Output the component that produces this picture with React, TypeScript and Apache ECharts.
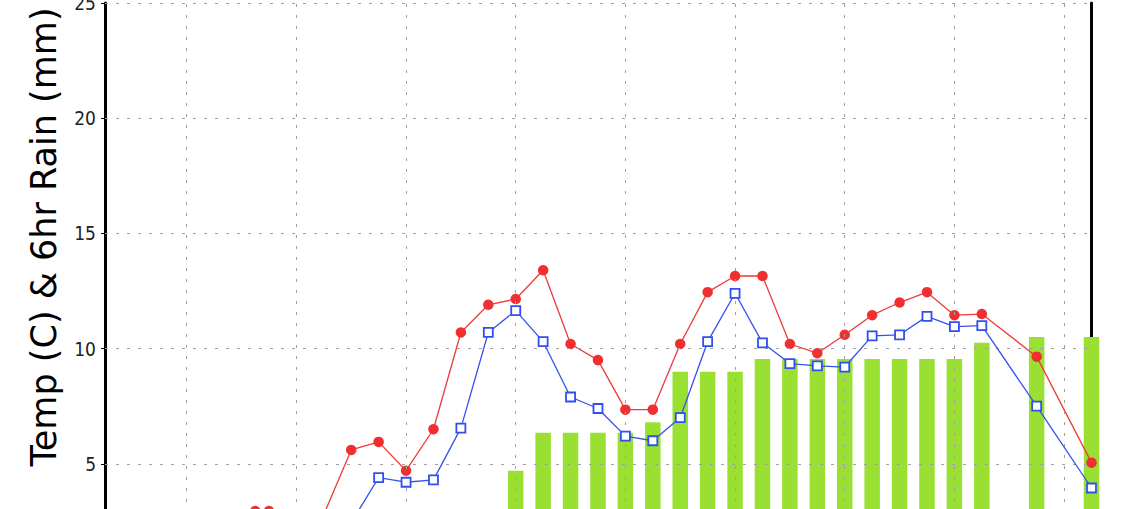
import React, { useEffect, useRef } from "react";
import * as echarts from "echarts";

// forecast hour of each point
const hours = [39, 42, 48, 54, 60, 66, 72, 78, 84, 90, 96, 102, 108, 114, 120, 126, 132, 138, 144, 150, 156, 162, 168, 174, 180, 186, 192, 198, 210, 222];
// temperature (C) - red
const temp = [2.95, 2.95, 2.6, 2.8, 5.6, 5.95, 4.7, 6.5, 10.7, 11.9, 12.15, 13.4, 10.2, 9.5, 7.35, 7.35, 10.2, 12.45, 13.15, 13.15, 10.2, 9.8, 10.6, 11.45, 12.0, 12.45, 11.45, 11.5, 9.65, 5.05];
// dew point (C) - blue
const dew = [2.2, 2.3, 2.0, 2.1, 2.45, 4.4, 4.2, 4.3, 6.55, 10.7, 11.65, 10.3, 7.9, 7.4, 6.2, 6.0, 7.0, 10.3, 12.4, 10.25, 9.35, 9.25, 9.2, 10.55, 10.6, 11.4, 10.95, 11.0, 7.5, 3.95];
// rain (mm) - green bars
const rain = [0, 0, 0, 0, 0, 0, 0, 0, 0, 0, 4.7, 6.35, 6.35, 6.35, 6.35, 6.8, 9.0, 9.0, 9.0, 9.55, 9.55, 9.55, 9.55, 9.55, 9.55, 9.55, 9.55, 10.25, 10.5, 10.5];
// day boundaries (vertical grid lines, hours)
const dayLines = [24, 48, 72, 96, 120, 144, 168, 192, 216];
// y tick values
const yTicks = [5, 10, 15, 20, 25];

const xMin = 6.12;
const xMax = 222;

export default function App() {
  const ref = useRef<HTMLDivElement>(null);
  useEffect(() => {
    if (!ref.current) return;
    const chart = echarts.init(ref.current, null, { renderer: "svg" });
    const gridStyle = { color: "#a0a0a0", width: 1, type: [3, 8] as any };
    chart.setOption({
      animation: false,
      backgroundColor: "#ffffff",
      grid: { left: 105, right: 40.5, top: 3, height: 576, containLabel: false, outerBoundsMode: "none" },
      xAxis: {
        type: "value",
        min: xMin,
        max: xMax,
        axisLine: { show: false },
        axisTick: { show: false },
        axisLabel: { show: false },
        splitLine: { show: false },
      },
      yAxis: [
        {
          type: "value",
          min: 0,
          max: 25,
          interval: 5,
          position: "left",
          axisLine: { show: true, lineStyle: { color: "#000", width: 3 } },
          axisTick: { show: true, length: 4, lineStyle: { color: "#000", width: 1 } },
          axisLabel: {
            margin: 9,
            fontFamily: '"Liberation Sans Narrow", "DejaVu Sans Condensed", sans-serif',
            fontSize: 19,
            color: "#222",
          },
          splitLine: { show: false },
        },
        {
          type: "value",
          min: 0,
          max: 25,
          interval: 5,
          position: "right",
          axisLine: { show: true, lineStyle: { color: "#000", width: 3 } },
          axisTick: { show: false },
          axisLabel: { show: false },
          splitLine: { show: false },
        },
      ],
      series: [
        {
          type: "bar",
          name: "rain",
          z: 2,
          clip: false,
          barWidth: 15.5,
          itemStyle: { color: "#99e033" },
          data: hours.map((h, i) => [h, rain[i]]),
        },
        {
          type: "line",
          name: "grid",
          z: 3,
          data: [],
          silent: true,
          markLine: {
            silent: true,
            symbol: ["none", "none"],
            label: { show: false },
            lineStyle: gridStyle,
            data: [
              ...dayLines.map((d) => ({ xAxis: d })),
              ...yTicks.map((v) => ({ yAxis: v })),
            ],
          },
        },
        {
          type: "line",
          name: "temp",
          z: 4,
          clip: false,
          data: hours.map((h, i) => [h, temp[i]]),
          symbol: "circle",
          symbolSize: 10.5,
          lineStyle: { color: "#f03a3a", width: 1.3 },
          itemStyle: { color: "#f03030", borderWidth: 0 },
        },
        {
          type: "line",
          name: "dew",
          z: 5,
          clip: false,
          data: hours.map((h, i) => [h, dew[i]]),
          symbol: "rect",
          symbolSize: 9,
          lineStyle: { color: "#3352ee", width: 1.3 },
          itemStyle: { color: "#ffffff", borderColor: "#2f4ff0", borderWidth: 1.8 },
        },
      ],
      graphic: [
        {
          type: "text",
          x: 44,
          y: 237,
          rotation: Math.PI / 2,
          style: {
            text: "Temp (C) & 6hr Rain (mm)",
            fontFamily: '"DejaVu Sans", sans-serif',
            fontSize: 35,
            fill: "#000",
            align: "center",
            verticalAlign: "middle",
            textAlign: "center",
            textVerticalAlign: "middle",
          },
        },
      ],
    });
    return () => chart.dispose();
  }, []);
  return (
    <div
      ref={ref}
      style={{ position: "fixed", left: 0, top: 0, width: 1132, height: 509, overflow: "hidden" }}
    />
  );
}
